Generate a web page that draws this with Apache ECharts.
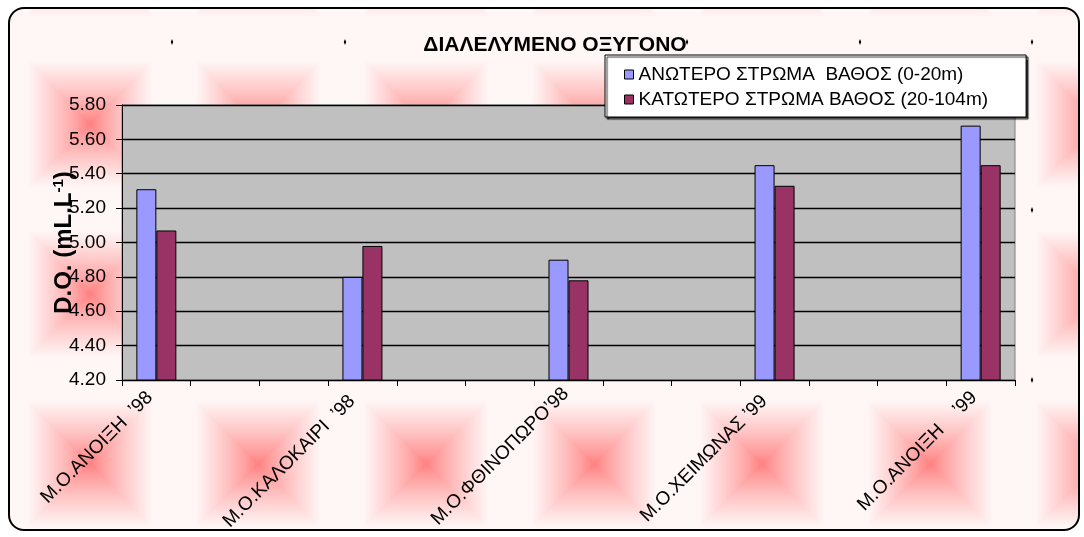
<!DOCTYPE html>
<html><head><meta charset="utf-8">
<script src="https://cdn.jsdelivr.net/npm/echarts@6/dist/echarts.min.js"></script>
<style>
html,body{margin:0;padding:0;background:#fff;}
#frame{position:absolute;left:8px;top:7px;width:1068px;height:520px;border:2px solid #000;border-radius:16px;background-repeat:repeat;}
#chart{position:absolute;left:0;top:0;width:1084px;height:537px;}
</style></head>
<body>
<div id="frame"></div>
<div id="chart"></div>
<script>
const categories = ["Μ.Ο.ΑΝΟΙΞΗ  ’98 ", "", "", "Μ.Ο.ΚΑΛΟΚΑΙΡΙ  ’98  ", "", "", "Μ.Ο.ΦΘΙΝΟΠΩΡΟ’98", "", "", "Μ.Ο.ΧΕΙΜΩΝΑΣ ’99  ", "", "", "Μ.Ο.ΑΝΟΙΞΗ    ’99 "];
const upperLayer = [5.31, null, null, 4.80, null, null, 4.90, null, null, 5.45, null, null, 5.68];
const lowerLayer = [5.07, null, null, 4.98, null, null, 4.78, null, null, 5.33, null, null, 5.45];
const seriesNames = ["ΑΝΩΤΕΡΟ ΣΤΡΩΜΑ  ΒΑΘΟΣ (0-20m)", "ΚΑΤΩΤΕΡΟ ΣΤΡΩΜΑ ΒΑΘΟΣ (20-104m)"];
const titleText = "ΔΙΑΛΕΛΥΜΕΝΟ ΟΞΥΓΟΝΟ";
const yNameMain = "D.O. (mL.L";
const yNameSup = "-1";
const yNameEnd = ")";

// background tile (rectangular "from centre" gradient)
(function(){
  const w = 168, h = 170;
  const c = document.createElement('canvas'); c.width = w; c.height = h;
  const ctx = c.getContext('2d');
  const img = ctx.createImageData(w, h);
  for (let y = 0; y < h; y++) for (let x = 0; x < w; x++) {
    const dx = Math.abs(x + 0.5 - w / 2) / (w / 2), dy = Math.abs(y + 0.5 - h / 2) / (h / 2);
    const t = Math.max(dx, dy);
    let k = Math.min(1, t / 0.74); k = Math.pow(k, 0.8);
    const g = Math.round(125 + (246 - 125) * k);
    const i = (y * w + x) * 4;
    img.data[i] = 255; img.data[i+1] = g; img.data[i+2] = g; img.data[i+3] = 255;
  }
  ctx.putImageData(img, 0, 0);
  const f = document.getElementById('frame');
  f.style.backgroundImage = 'url(' + c.toDataURL() + ')';
  f.style.backgroundPosition = '-4px 30px';
})();

const chart = echarts.init(document.getElementById('chart'), null, {renderer: 'canvas'});
const font = 'Liberation Sans, Arial, sans-serif';
function handle(x, y) {
  return {type: 'polygon', silent: true, shape: {points: [[x, y - 3], [x + 1.2, y], [x, y + 3], [x - 1.2, y]]}, style: {fill: '#000'}};
}
chart.setOption({
  backgroundColor: 'transparent',
  animation: false,
  textStyle: {fontFamily: font},
  graphic: [handle(172, 42), handle(345, 42), handle(687, 42), handle(860, 42), handle(1032, 42), handle(1032, 210), handle(1032, 380)],
  title: {text: titleText, left: 550, top: 30, textAlign: 'center',
    textStyle: {fontSize: 21, fontWeight: 'bold', color: '#000', fontFamily: font}},
  legend: {
    orient: 'vertical', left: 605, top: 55,
    padding: [10, 38, 8, 19], itemGap: 6,
    backgroundColor: '#fff', borderColor: '#000', borderWidth: 1,
    shadowColor: 'rgba(0,0,0,0.8)', shadowBlur: 1, shadowOffsetX: 2, shadowOffsetY: 2,
    itemWidth: 9, itemHeight: 9, icon: 'rect',
    textStyle: {fontSize: 19, color: '#000', fontFamily: font},
    itemStyle: {borderColor: '#000', borderWidth: 1},
    data: seriesNames
  },
  grid: {left: 122, right: 69, top: 105, bottom: 157, show: true, backgroundColor: '#C0C0C0', borderColor: '#808080', borderWidth: 1, containLabel: false, outerBoundsMode: 'none'},
  xAxis: {
    type: 'category', data: categories, boundaryGap: true,
    axisLine: {lineStyle: {color: '#000', width: 1}},
    axisTick: {show: true, length: 6, inside: false, lineStyle: {color: '#000'}, interval: 0},
    axisLabel: {interval: 0, rotate: 45, fontSize: 19, color: '#000', margin: 8, padding: [0, 4, 0, 0], fontFamily: font},
    splitLine: {show: false}
  },
  yAxis: {
    type: 'value', min: 4.2, max: 5.8, interval: 0.2,
    name: '{m|' + yNameMain + '}{s|' + yNameSup + '}{m|' + yNameEnd + '}',
    nameLocation: 'middle', nameRotate: 90, nameGap: 45, nameMoveOverlap: false,
    nameTextStyle: {fontSize: 24, fontWeight: 'bold', color: '#000', fontFamily: font,
      rich: {
        m: {fontSize: 24, fontWeight: 'bold', color: '#000', fontFamily: font, lineHeight: 26},
        s: {fontSize: 15, fontWeight: 'bold', color: '#000', fontFamily: font, verticalAlign: 'top', lineHeight: 26, padding: [0, 0, 10, 0]}
      }},
    axisLine: {show: true, lineStyle: {color: '#000', width: 1}},
    axisTick: {show: true, length: 6, lineStyle: {color: '#000'}},
    axisLabel: {fontSize: 19, color: '#000', margin: 16, formatter: v => v.toFixed(2), fontFamily: font},
    splitLine: {show: true, lineStyle: {color: '#000', width: 1.3}}
  },
  series: [
    {name: seriesNames[0], type: 'bar', data: upperLayer, barWidth: 20, barGap: '0%',
     itemStyle: {color: '#9999FF', borderColor: '#000', borderWidth: 1}},
    {name: seriesNames[1], type: 'bar', data: lowerLayer, barWidth: 20, barGap: '0%',
     itemStyle: {color: '#993366', borderColor: '#000', borderWidth: 1}}
  ]
});
</script>
</body></html>
